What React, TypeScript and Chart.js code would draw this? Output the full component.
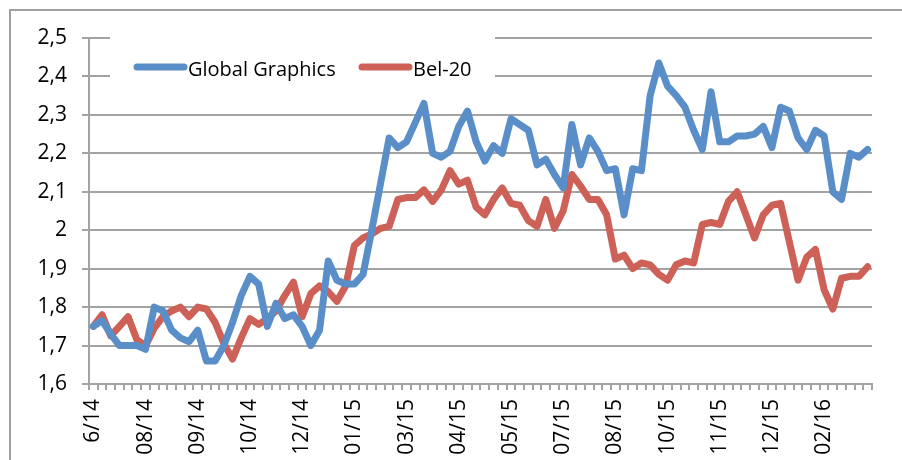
import { useEffect, useRef } from 'react';
import { Chart, registerables } from 'chart.js';

Chart.register(...registerables);

const tickLabels = ['6/14', '08/14', '09/14', '10/14', '12/14', '01/15', '03/15', '04/15', '05/15', '07/15', '08/15', '10/15', '11/15', '12/15', '02/16'];

const globalGraphics = [
  1.75, 1.765, 1.73, 1.70, 1.70, 1.70, 1.69, 1.80, 1.79, 1.74,
  1.72, 1.71, 1.74, 1.66, 1.66, 1.70, 1.76, 1.83, 1.88, 1.86,
  1.75, 1.81, 1.77, 1.78, 1.75, 1.70, 1.74, 1.92, 1.87, 1.86,
  1.86, 1.885, 2.00, 2.12, 2.24, 2.215, 2.23, 2.28, 2.33, 2.20,
  2.19, 2.205, 2.27, 2.31, 2.23, 2.18, 2.22, 2.20, 2.29, 2.275,
  2.26, 2.17, 2.185, 2.145, 2.11, 2.275, 2.17, 2.24, 2.205, 2.155,
  2.16, 2.04, 2.16, 2.155, 2.35, 2.435, 2.375, 2.35, 2.32, 2.26,
  2.21, 2.36, 2.23, 2.23, 2.245, 2.245, 2.25, 2.27, 2.215, 2.32,
  2.31, 2.24, 2.21, 2.26, 2.245, 2.10, 2.08, 2.20, 2.19, 2.21,
];

const bel20 = [
  1.75, 1.78, 1.725, 1.75, 1.775, 1.715, 1.70, 1.745, 1.775, 1.79,
  1.80, 1.775, 1.80, 1.795, 1.76, 1.705, 1.665, 1.72, 1.77, 1.755,
  1.77, 1.79, 1.83, 1.865, 1.775, 1.835, 1.855, 1.84, 1.815, 1.855,
  1.96, 1.98, 1.99, 2.005, 2.01, 2.08, 2.085, 2.085, 2.105, 2.075,
  2.105, 2.155, 2.12, 2.13, 2.06, 2.04, 2.08, 2.11, 2.07, 2.065,
  2.025, 2.01, 2.08, 2.005, 2.05, 2.145, 2.115, 2.08, 2.08, 2.04,
  1.925, 1.935, 1.90, 1.915, 1.91, 1.885, 1.87, 1.91, 1.92, 1.915,
  2.015, 2.02, 2.015, 2.075, 2.10, 2.04, 1.98, 2.04, 2.065, 2.07,
  1.97, 1.87, 1.93, 1.95, 1.845, 1.795, 1.875, 1.88, 1.88, 1.905,
];

const seriesNames = ['Global Graphics', 'Bel-20'];
const labelEvery = 6;
const yMin = 1.6;
const yMax = 2.5;
const yStep = 0.1;

const BLUE = '#5a8ec8';
const RED = '#cd6057';
const GRID = '#a3a3a3';
const FONT = "'Open Sans', sans-serif";

const categories = globalGraphics.map((_, i) =>
  i % labelEvery === 0 ? tickLabels[i / labelEvery] ?? '' : ''
);

const framePlugin = {
  id: 'frame',
  beforeDraw(chart: any) {
    const ctx = chart.ctx;
    ctx.save();
    ctx.strokeStyle = '#a0a0a0';
    ctx.lineWidth = 2;
    ctx.beginPath();
    ctx.moveTo(10, chart.height);
    ctx.lineTo(10, 10);
    ctx.lineTo(chart.width, 10);
    ctx.stroke();
    ctx.restore();
  },
};

const legendPlugin = {
  id: 'insideLegend',
  beforeDatasetsDraw(chart: any) {
    const ctx = chart.ctx;
    const area = chart.chartArea;
    ctx.save();
    ctx.fillStyle = '#ffffff';
    ctx.fillRect(area.left + 21, area.top - 14, 385, 76);
    const lineY = area.top + 29;
    const items = [
      { x: area.left + 48, color: BLUE, label: seriesNames[0] },
      { x: area.left + 273, color: RED, label: seriesNames[1] },
    ];
    ctx.font = `20px ${FONT}`;
    ctx.textBaseline = 'alphabetic';
    ctx.textAlign = 'left';
    for (const it of items) {
      ctx.strokeStyle = it.color;
      ctx.lineWidth = 7;
      ctx.lineCap = 'round';
      ctx.beginPath();
      ctx.moveTo(it.x, lineY);
      ctx.lineTo(it.x + 47, lineY);
      ctx.stroke();
      ctx.fillStyle = '#000';
      ctx.fillText(it.label, it.x + 51, lineY + 9);
    }
    ctx.restore();
  },
};

export default function App() {
  const ref = useRef<HTMLCanvasElement>(null);

  useEffect(() => {
    if (!ref.current) return;
    const chart = new Chart(ref.current, {
      type: 'line',
      data: {
        labels: categories,
        datasets: [
          {
            label: seriesNames[0],
            data: globalGraphics,
            borderColor: BLUE,
            backgroundColor: BLUE,
            borderWidth: 7,
            pointRadius: 0,
            tension: 0,
            borderJoinStyle: 'round',
            borderCapStyle: 'round',
          },
          {
            label: seriesNames[1],
            data: bel20,
            borderColor: RED,
            backgroundColor: RED,
            borderWidth: 7,
            pointRadius: 0,
            tension: 0,
            borderJoinStyle: 'round',
            borderCapStyle: 'round',
          },
        ],
      },
      options: {
        responsive: false,
        animation: false,
        layout: { padding: { left: 10, right: 30, top: 38, bottom: 0 } },
        plugins: {
          legend: { display: false },
          tooltip: { enabled: false },
        },
        scales: {
          x: {
            type: 'category',
            offset: true,
            grid: {
              display: true,
              offset: true,
              drawOnChartArea: false,
              drawTicks: true,
              tickLength: 6,
              color: GRID,
              lineWidth: 2,
            },
            border: { display: true, color: GRID, width: 2 },
            ticks: {
              autoSkip: false,
              minRotation: 90,
              maxRotation: 90,
              padding: 9,
              color: '#000',
              font: { family: FONT, size: 21 },
            },
            afterFit: (scale: any) => {
              scale.height = 76;
            },
          },
          y: {
            min: yMin,
            max: yMax,
            grid: {
              color: GRID,
              lineWidth: 2,
              tickLength: 7,
            },
            border: { display: true, color: GRID, width: 2 },
            ticks: {
              stepSize: yStep,
              padding: 15,
              color: '#000',
              font: { family: FONT, size: 21 },
              callback: (v: any) => String(Math.round(Number(v) * 10) / 10).replace('.', ','),
            },
            afterFit: (scale: any) => {
              scale.width = 79;
            },
          },
        },
      },
      plugins: [framePlugin, legendPlugin],
    });
    return () => chart.destroy();
  }, []);

  return (
    <div style={{ position: 'fixed', left: 0, top: 0, width: 902, height: 460 }}>
      <canvas ref={ref} width={902} height={460} style={{ width: 902, height: 460, display: 'block' }} />
    </div>
  );
}
